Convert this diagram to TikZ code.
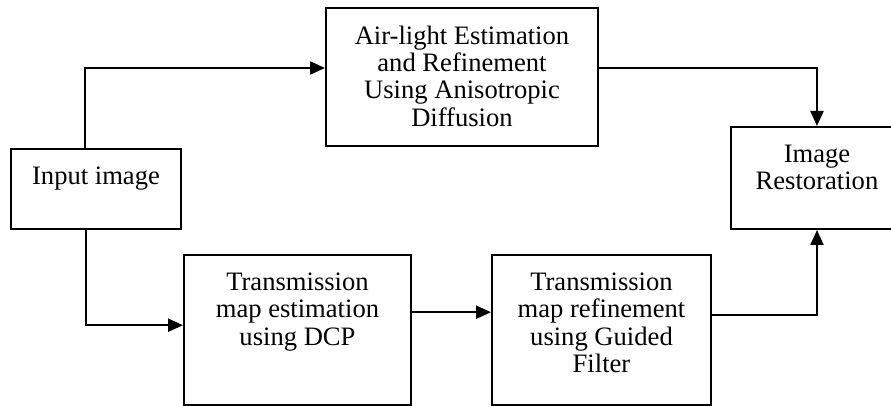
\documentclass[tikz,border=0pt]{standalone}
\usepackage{fontspec}
\setmainfont{Liberation Serif}
\usetikzlibrary{arrows.meta}
\usetikzlibrary{positioning}
\tikzset{
    arrow/.style = {-{Triangle[length=7.5pt, width=6.5pt]}, line width=1.1pt},
    block/.style = {
      draw,
      line width=1pt,
      rectangle,
      inner sep=0pt,
      font=\fontsize{13.3}{13.6}\selectfont
    },
}
\newcommand{\blocktext}[3]{\parbox[c][#2][t]{#1}{\centering\vspace*{9pt}#3}}

\begin{document}
\begin{tikzpicture}[x=1pt, y=1pt]
      \useasboundingbox (0,0) rectangle (445.5,203);
      \clip (0,0) rectangle (445.5,203);

      \node [block] (input) at (48,108.5) {\blocktext{85pt}{40pt}{Input image}};
      \node [block, above right=0.5pt and 71.5pt of input] (airlight)
            {\blocktext{136pt}{69pt}{Air-light Estimation\\and Refinement\\Using Anisotropic\\Diffusion}};
      \node [block, below right=12pt and 0.5pt of input] (dcp)
            {\blocktext{113.5pt}{75.2pt}{Transmission\\map estimation\\using DCP}};
      \node [block, right=39.5pt of dcp] (guided)
            {\blocktext{109.5pt}{75.2pt}{Transmission\\map refinement\\using Guided\\Filter}};
      \node [block, above right=12pt and 9pt of guided] (restore)
            {\blocktext{86pt}{51pt}{Image\\Restoration}};

      \draw [arrow] ([xshift=-5.5pt]input.north) |- ([yshift=4.5pt]airlight.west);
      \draw [arrow] ([yshift=4.5pt]airlight.east) -| (restore.north);
      \draw [arrow] ([xshift=-5pt]input.south) |- ([yshift=2.5pt]dcp.west);
      \draw [arrow] ([yshift=9pt]dcp.east) -- ([yshift=9pt]guided.west);
      \draw [arrow] ([yshift=7.5pt]guided.east) -| (restore.south);
\end{tikzpicture}
\end{document}
